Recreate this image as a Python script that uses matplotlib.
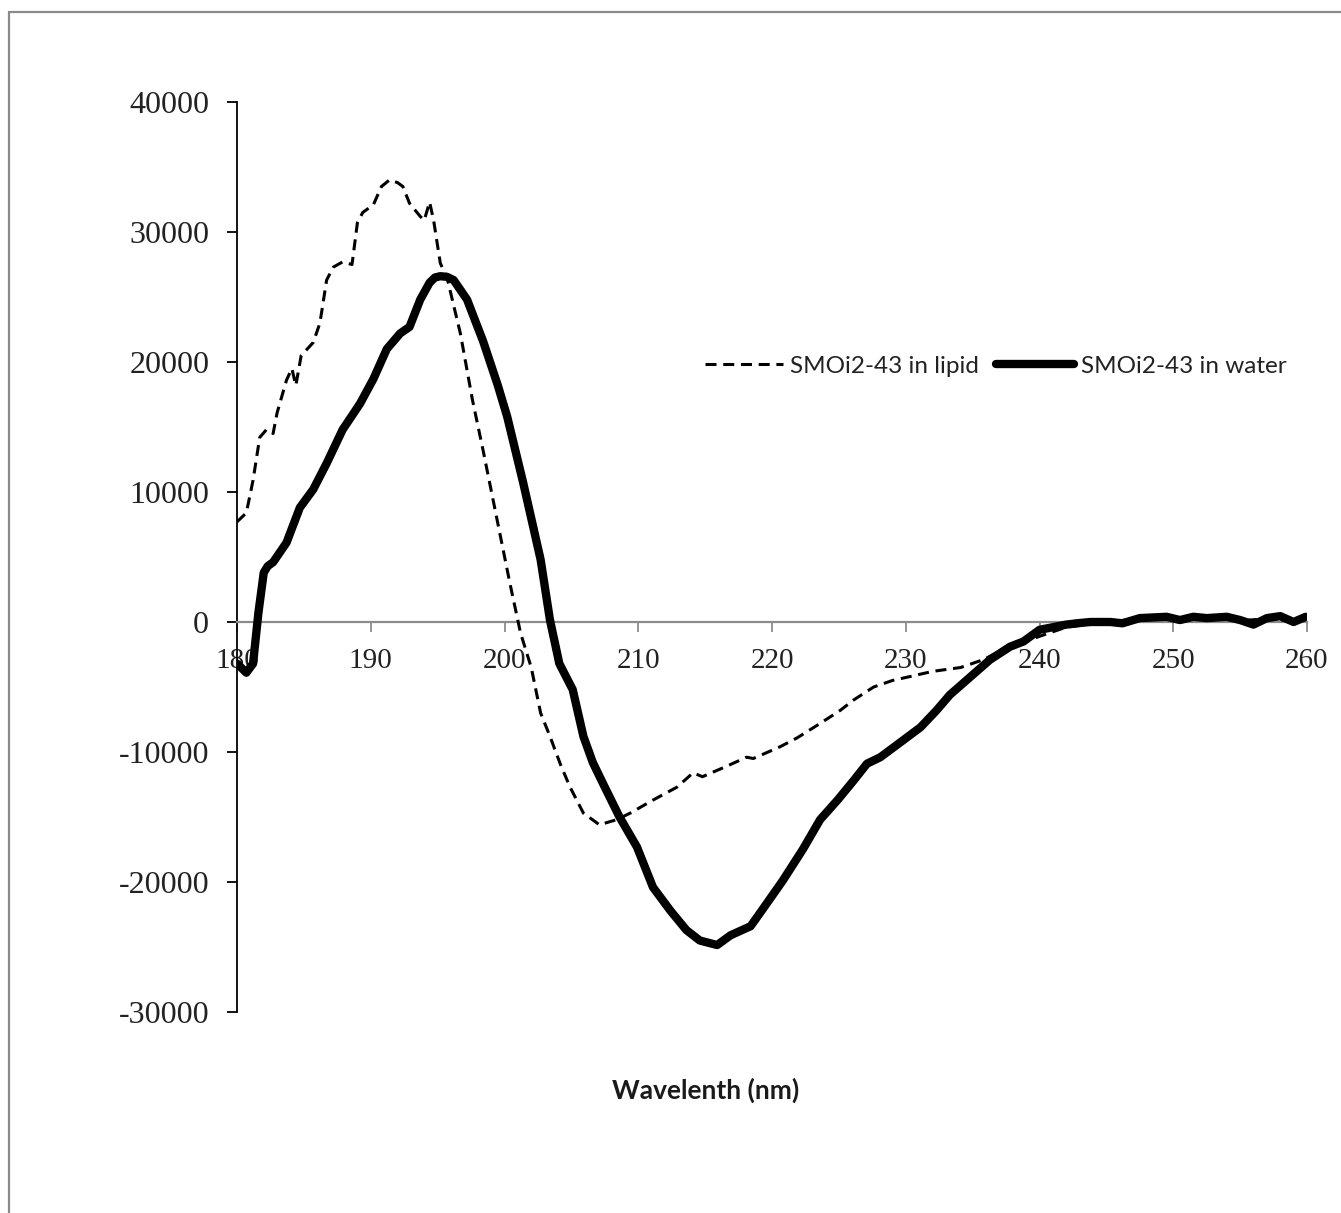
import matplotlib
matplotlib.use("Agg")
import matplotlib.pyplot as plt
from matplotlib.patches import Rectangle

plt.rcParams['axes.unicode_minus'] = False

# Spectre CD : lipide (pointillés) et eau (trait plein)
wl_lipid = [180, 180.7, 181.2, 181.7, 182.2, 182.7, 183.0, 183.7, 184.1, 184.4, 184.8,
            185.7, 186.2, 186.7, 187.2, 187.9, 188.6, 189.0, 189.4, 190.2, 190.8,
            191.4, 192.0, 192.4, 192.9, 193.7, 194.0, 194.4, 194.7, 195.2, 195.7,
            196.7, 197.6, 198.4, 199.4, 200.4, 201.2, 202.0, 202.7, 203.4, 204.2,
            204.9, 205.9, 207.1, 208.4, 209.4, 211.1, 212.9, 214.1, 214.8, 216.6,
            218.1, 218.6, 220.6, 221.9, 223.6, 225.1, 226.1, 227.6, 229.0, 230.3,
            232.0, 234.1, 235.8, 237.5, 239.0, 240.0, 241.0, 242.0, 243.5, 245,
            247, 249, 251, 253, 255, 257, 259, 260]
cd_lipid = [7700, 8400, 10900, 14200, 14800, 14500, 16100, 18600, 19500, 18200, 20500,
            21500, 23000, 26300, 27300, 27700, 27500, 30700, 31500, 32100, 33500,
            34000, 33800, 33500, 32200, 31200, 30900, 32300, 30900, 27600, 26500,
            22200, 17100, 13200, 8100, 3000, -850, -3500, -7000, -8800, -11000,
            -12700, -14700, -15600, -15200, -14700, -13700, -12700, -11600, -11900, -11100,
            -10400, -10500, -9600, -8900, -7800, -6800, -6000, -5000, -4500, -4200,
            -3800, -3500, -2900, -2000, -1500, -1100, -750, -400, -200, 0,
            200, 350, 300, 300, 100, 250, 100, 350]

wl_water = [180, 180.7, 181.2, 181.6, 182.0, 182.3, 182.7, 183.7, 184.7, 185.7, 186.7, 187.9,
            189.2, 190.2, 191.2, 192.2, 192.9, 193.7, 194.4, 194.8, 195.2, 195.7, 196.2, 197.2,
            198.4, 199.5, 200.2, 201.4, 202.7, 203.4, 204.1, 205.1, 205.9, 206.6,
            207.4, 208.6, 209.9, 211.1, 212.4, 213.6, 214.6, 215.9, 216.9, 218.4,
            219.3, 220.8, 222.3, 223.6, 224.9, 226.1, 227.1, 228.1, 229.8, 231.1,
            232.3, 233.3, 234.3, 235.3, 236.3, 237.8, 238.8, 240.0, 241.0, 242.0,
            242.8, 243.8, 245.3, 246.2, 247.5, 249.5, 250.5, 251.5, 252.5, 254.0,
            255.0, 256.0, 257.0, 258.0, 259.0, 259.9]
cd_water = [-3200, -3900, -3200, 700, 3800, 4300, 4600, 6100, 8800, 10200, 12200, 14800,
            16800, 18700, 21000, 22200, 22700, 24800, 26100, 26500, 26600, 26550, 26300, 24800,
            21600, 18200, 15800, 10700, 4800, 150, -3200, -5200, -8800, -10800,
            -12500, -15000, -17300, -20400, -22200, -23700, -24500, -24850, -24100, -23400,
            -22100, -19900, -17500, -15200, -13700, -12200, -10900, -10400, -9100, -8100,
            -6800, -5600, -4700, -3800, -2900, -1900, -1500, -600, -400, -200,
            -100, 0, 0, -100, 300, 400, 150, 400, 300, 400,
            150, -200, 300, 450, 0, 400]

x_ticks = [180, 190, 200, 210, 220, 230, 240, 250, 260]
y_ticks = [-30000, -20000, -10000, 0, 10000, 20000, 30000, 40000]

fig = plt.figure(figsize=(13.41, 12.13), dpi=100)
ax = fig.add_axes([237 / 1341, 1 - 1012 / 1213, (1307 - 237) / 1341, (1012 - 102) / 1213])

# cadre gris autour de la figure
fig.patches.append(Rectangle((9 / 1341, -0.1), 2, 1 - 12 / 1213 + 0.1,
                             transform=fig.transFigure, fill=False,
                             edgecolor='#8a8a8a', linewidth=1.6, clip_on=False))

ax.plot(wl_lipid, cd_lipid, color='black', linewidth=2.2, linestyle=(0, (3.6, 2.2)),
        label="SMOi2-43 in lipid", zorder=3)
ax.plot(wl_water, cd_water, color='black', linewidth=6, solid_capstyle='round',
        solid_joinstyle='round', label="SMOi2-43 in water", zorder=4)

ax.set_xlim(180, 260)
ax.set_ylim(-30000, 40000)
ax.set_xticks(x_ticks)
ax.set_yticks(y_ticks)
ax.set_axisbelow(True)

for s in ['top', 'right']:
    ax.spines[s].set_visible(False)
ax.spines['bottom'].set_position(('data', 0))
ax.spines['bottom'].set_color('#8c8c8c')
ax.spines['bottom'].set_linewidth(1.6)
ax.spines['left'].set_color('black')
ax.spines['left'].set_linewidth(1.3)

ax.tick_params(axis='x', direction='out', length=7, width=1.3, color='#8c8c8c', pad=12,
               labelsize=21, labelcolor='#222222')
ax.tick_params(axis='y', direction='out', length=7, width=1.3, color='black', pad=13,
               labelsize=23, labelcolor='#222222')
for lab in ax.get_xticklabels() + ax.get_yticklabels():
    lab.set_family('Liberation Serif')

fig.text(706 / 1341, 1 - 1090 / 1213, "Wavelenth (nm)", ha='center', va='center',
         fontsize=19, fontweight='bold', family='Lato', color='#1a1a1a')

leg = ax.legend(loc='center left', bbox_to_anchor=(705 / 1341, 1 - 366 / 1213),
                bbox_transform=fig.transFigure, ncol=2, frameon=False,
                prop={'family': 'Lato', 'size': 17.5}, handlelength=3.2,
                handletextpad=0.3, columnspacing=0.7, borderpad=0, borderaxespad=0)
for t in leg.get_texts():
    t.set_color('#222222')

fig.savefig("out.png", dpi=100)
